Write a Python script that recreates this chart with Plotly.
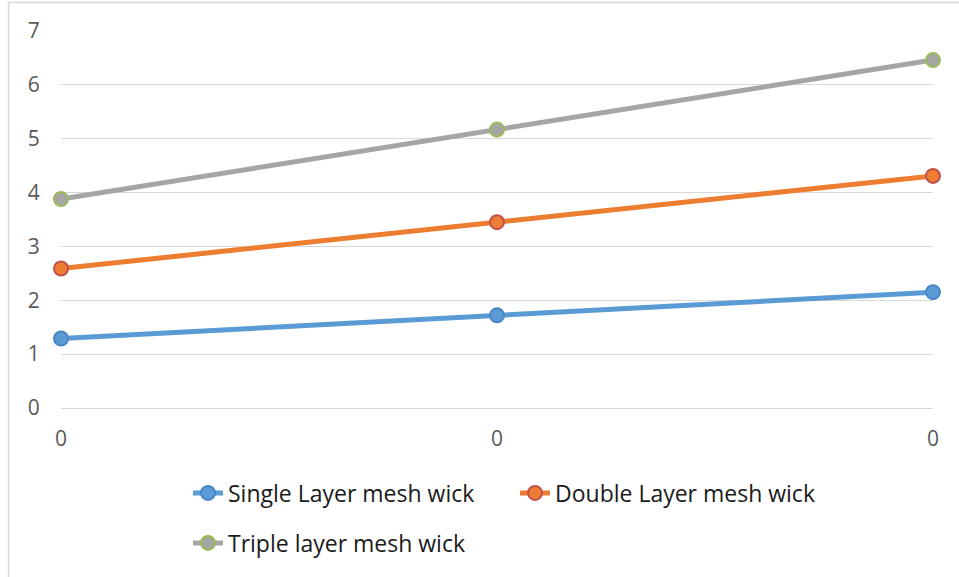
import plotly.graph_objects as go

x_labels = ["0", "0", "0"]
x_pos = [0, 1, 2]
single = [1.29, 1.72, 2.15]
double = [2.59, 3.45, 4.31]
triple = [3.88, 5.17, 6.46]
y_ticks = [0, 1, 2, 3, 4, 5, 6, 7]

L, R, T, B = 61, 26, 31, 169
W, H = 959, 577
pw, ph = W - L - R, H - T - B

def px_x(px):
    return (px - L) / pw

def px_y(py):
    return (H - B - py) / ph

fig = go.Figure()
series = [
    ("Single Layer mesh wick", single, "#5B9BD5", "#5B9BD5", "#4A86C5", "legend"),
    ("Double Layer mesh wick", double, "#ED7D31", "#ED7D31", "#C0504D", "legend"),
    ("Triple layer mesh wick", triple, "#A5A5A5", "#A5A5A5", "#9BBB59", "legend2"),
]
for name, vals, lc, mc, oc, lg in series:
    fig.add_trace(go.Scatter(
        x=x_pos, y=vals, name=name, mode="lines+markers",
        line=dict(color=lc, width=5),
        marker=dict(size=14, color=mc, line=dict(color=oc, width=2)),
        legend=lg, cliponaxis=False,
    ))

tick_font = dict(family="Open Sans, sans-serif", size=21, color="#595959")
leg_font = dict(family="Open Sans, sans-serif", size=23, color="#1a1a1a")

fig.update_layout(
    width=W, height=H,
    margin=dict(l=L, r=R, t=T, b=B),
    paper_bgcolor="white", plot_bgcolor="white",
    font=dict(family="Open Sans, sans-serif", color="#595959"),
    xaxis=dict(range=[0, 2], tickvals=x_pos, ticktext=x_labels,
               showgrid=False, zeroline=False, showline=True,
               linecolor="#D9D9D9", linewidth=1,
               tickfont=tick_font, ticks="outside", ticklen=12,
               tickcolor="rgba(0,0,0,0)"),
    yaxis=dict(range=[0, 7], tickvals=y_ticks, showgrid=True,
               gridcolor="#D9D9D9", gridwidth=1, zeroline=False,
               tickfont=tick_font, ticks="outside",
               ticklen=16, tickcolor="rgba(0,0,0,0)"),
    legend=dict(orientation="h", x=px_x(188), xanchor="left",
                y=px_y(493), yanchor="middle", entrywidth=282,
                entrywidthmode="pixels",
                font=leg_font, bgcolor="rgba(0,0,0,0)"),
    legend2=dict(orientation="h", x=px_x(188), xanchor="left",
                 y=px_y(543), yanchor="middle",
                 font=leg_font, bgcolor="rgba(0,0,0,0)"),
    showlegend=True,
    shapes=[dict(type="rect", xref="paper", yref="paper",
                 x0=px_x(8.5), x1=px_x(1000), y0=px_y(2.5), y1=px_y(700),
                 line=dict(color="#D9D9D9", width=1.5), layer="below")],
)
fig.write_html("out.html")
